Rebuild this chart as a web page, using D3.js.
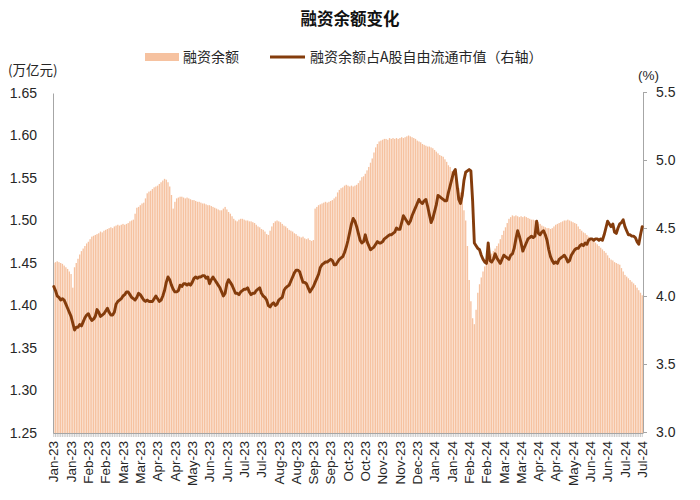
<!DOCTYPE html>
<html><head><meta charset="utf-8">
<script src="https://cdn.jsdelivr.net/npm/d3@7"></script>
<style>
html,body{margin:0;padding:0;background:#fff;}
svg{display:block;font-family:"Liberation Sans",Arial,"Noto Sans CJK SC",sans-serif;}
</style></head>
<body>
<svg id="chart" width="700" height="500"></svg>
<script>
// 融资余额 (万亿元), daily
const marginBalance = [
1.450,1.451,1.452,1.451,1.450,1.449,1.447,1.445,1.443,1.440,
1.437,1.421,1.445,1.450,1.455,1.460,1.464,1.467,1.470,1.473,
1.475,1.478,1.481,1.482,1.483,1.484,1.485,1.487,1.486,1.488,
1.489,1.490,1.491,1.492,1.491,1.493,1.494,1.495,1.494,1.495,
1.496,1.495,1.496,1.497,1.499,1.500,1.501,1.508,1.515,1.516,
1.518,1.520,1.521,1.526,1.532,1.534,1.535,1.537,1.539,1.540,
1.541,1.543,1.545,1.547,1.549,1.548,1.545,1.540,1.530,1.514,
1.522,1.526,1.527,1.528,1.528,1.527,1.526,1.527,1.526,1.525,
1.524,1.524,1.523,1.522,1.522,1.521,1.520,1.520,1.519,1.518,
1.518,1.517,1.516,1.515,1.514,1.513,1.512,1.512,1.514,1.516,
1.513,1.510,1.508,1.505,1.502,1.500,1.499,1.501,1.502,1.502,
1.501,1.500,1.500,1.499,1.499,1.498,1.497,1.495,1.493,1.492,
1.490,1.489,1.487,1.484,1.483,1.488,1.493,1.497,1.499,1.500,
1.499,1.498,1.496,1.494,1.493,1.491,1.489,1.488,1.487,1.485,
1.484,1.482,1.481,1.480,1.481,1.479,1.478,1.479,1.477,1.476,
1.477,1.514,1.516,1.518,1.519,1.520,1.521,1.522,1.521,1.522,
1.523,1.524,1.526,1.528,1.533,1.536,1.538,1.539,1.541,1.542,
1.541,1.540,1.541,1.540,1.541,1.542,1.544,1.547,1.551,1.552,
1.555,1.559,1.563,1.568,1.573,1.580,1.586,1.590,1.593,1.594,
1.595,1.596,1.596,1.595,1.597,1.596,1.597,1.596,1.597,1.596,
1.597,1.598,1.597,1.598,1.599,1.600,1.599,1.598,1.597,1.596,
1.594,1.593,1.592,1.590,1.589,1.588,1.587,1.587,1.586,1.585,
1.583,1.581,1.579,1.577,1.576,1.575,1.572,1.569,1.565,1.563,
1.558,1.553,1.548,1.544,1.538,1.533,1.525,1.512,1.500,1.470,
1.430,1.405,1.385,1.378,1.395,1.415,1.425,1.433,1.440,1.446,
1.451,1.455,1.459,1.461,1.464,1.467,1.470,1.473,1.478,1.483,
1.488,1.492,1.497,1.502,1.504,1.506,1.505,1.506,1.505,1.504,
1.505,1.504,1.505,1.504,1.503,1.502,1.501,1.501,1.500,1.500,
1.498,1.496,1.494,1.493,1.492,1.491,1.491,1.490,1.491,1.493,
1.495,1.496,1.497,1.498,1.499,1.500,1.500,1.501,1.500,1.499,
1.498,1.497,1.496,1.493,1.490,1.488,1.486,1.485,1.483,1.481,
1.479,1.478,1.476,1.474,1.472,1.470,1.468,1.466,1.464,1.462,
1.459,1.456,1.454,1.453,1.451,1.450,1.449,1.448,1.444,1.440,
1.436,1.434,1.432,1.430,1.428,1.426,1.424,1.421,1.418,1.415,
1.412
];

// 融资余额占A股自由流通市值 (%), daily
const ratio = [
4.07,4.04,4.00,3.99,3.97,3.98,3.97,3.94,3.91,3.88,
3.85,3.80,3.75,3.77,3.77,3.79,3.78,3.81,3.84,3.86,
3.87,3.84,3.82,3.83,3.85,3.90,3.88,3.85,3.86,3.87,
3.89,3.91,3.88,3.86,3.86,3.88,3.94,3.96,3.97,3.98,
4.00,4.01,4.03,4.03,4.01,3.99,3.98,3.97,3.99,4.02,
4.01,3.99,3.97,3.96,3.97,3.96,3.96,3.96,3.98,4.00,
3.98,3.96,3.97,4.00,4.04,4.10,4.14,4.12,4.08,4.05,
4.03,4.03,4.04,4.08,4.07,4.09,4.09,4.08,4.09,4.08,
4.10,4.13,4.14,4.13,4.14,4.14,4.15,4.15,4.13,4.14,
4.09,4.12,4.14,4.12,4.10,4.08,4.06,4.03,4.00,4.02,
4.09,4.12,4.10,4.08,4.05,4.02,4.02,4.01,4.03,4.04,
4.05,4.05,4.06,4.03,4.01,4.02,4.02,4.04,4.05,4.06,
4.02,4.00,3.99,3.97,3.93,3.92,3.94,3.95,3.93,3.94,
3.97,3.98,3.99,4.04,4.06,4.07,4.08,4.11,4.14,4.17,
4.19,4.19,4.18,4.14,4.10,4.10,4.09,4.06,4.03,4.05,
4.07,4.10,4.13,4.16,4.21,4.23,4.24,4.25,4.25,4.26,
4.27,4.26,4.23,4.23,4.25,4.27,4.28,4.29,4.32,4.36,
4.41,4.47,4.53,4.57,4.55,4.51,4.46,4.41,4.39,4.40,
4.45,4.40,4.37,4.34,4.35,4.36,4.38,4.40,4.39,4.39,
4.40,4.42,4.43,4.44,4.45,4.45,4.46,4.47,4.50,4.49,
4.49,4.54,4.59,4.57,4.55,4.53,4.55,4.59,4.62,4.65,
4.68,4.71,4.69,4.68,4.70,4.71,4.66,4.60,4.54,4.57,
4.62,4.67,4.74,4.73,4.72,4.71,4.70,4.70,4.76,4.81,
4.86,4.91,4.93,4.82,4.71,4.68,4.74,4.85,4.91,4.92,
4.93,4.92,4.70,4.39,4.37,4.35,4.34,4.30,4.27,4.25,
4.24,4.39,4.26,4.25,4.27,4.31,4.28,4.26,4.24,4.27,
4.30,4.29,4.28,4.27,4.30,4.31,4.35,4.42,4.48,4.44,
4.39,4.33,4.36,4.39,4.42,4.43,4.44,4.43,4.44,4.55,
4.46,4.45,4.47,4.48,4.45,4.41,4.34,4.29,4.26,4.24,
4.25,4.24,4.27,4.28,4.29,4.30,4.28,4.25,4.26,4.30,
4.32,4.34,4.35,4.35,4.37,4.38,4.37,4.39,4.38,4.41,
4.42,4.42,4.41,4.42,4.42,4.41,4.42,4.41,4.45,4.50,
4.55,4.53,4.51,4.53,4.47,4.46,4.50,4.53,4.54,4.56,
4.51,4.48,4.45,4.45,4.44,4.44,4.43,4.40,4.38,4.45,
4.51
];

// x tick labels, one every 10 trading days
const tickLabels = ["Jan-23","Jan-23","Feb-23","Feb-23","Mar-23","Mar-23","Apr-23","Apr-23","May-23",
"Jun-23","Jun-23","Jul-23","Jul-23","Aug-23","Aug-23","Sep-23","Sep-23","Oct-23","Oct-23",
"Nov-23","Nov-23","Dec-23","Jan-24","Jan-24","Feb-24","Feb-24","Mar-24","Mar-24","Apr-24",
"Apr-24","May-24","Jun-24","Jun-24","Jul-24","Jul-24"];
const leftTicks = [1.25,1.30,1.35,1.40,1.45,1.50,1.55,1.60,1.65];
const rightTicks = [3.0,3.5,4.0,4.5,5.0,5.5];

const title = "融资余额变化";
const seriesNames = ["融资余额","融资余额占A股自由流通市值（右轴）"];

const svg = d3.select("#chart");
const L = 53, R = 643, T = 93, B = 433;
const barColor = "#F6C2A0", lineColor = "#843C0C", axisColor = "#A6A6A6", textColor = "#262626";
const cjk = '"Noto Sans CJK SC","Liberation Sans",sans-serif';
const latin = '"Liberation Sans",Arial,sans-serif';

const days = d3.range(marginBalance.length);
const x = d3.scaleBand().domain(days).range([L, R]).paddingInner(0.22).paddingOuter(0.05);
const yL = d3.scaleLinear().domain([1.25, 1.65]).range([B, T]);
const yR = d3.scaleLinear().domain([3.0, 5.5]).range([B - 1, T - 1]);

// bars
svg.append("g").selectAll("rect").data(days).join("rect")
  .attr("x", i => x(i)).attr("width", x.bandwidth())
  .attr("y", i => yL(marginBalance[i])).attr("height", i => B - yL(marginBalance[i]))
  .attr("fill", barColor);

// left axis
const gL = svg.append("g").attr("transform", `translate(${L},0)`)
  .call(d3.axisLeft(yL).tickValues(leftTicks).tickSize(0).tickSizeOuter(0).tickPadding(16).tickFormat(d3.format(".2f")));
gL.select(".domain").attr("stroke", axisColor);
gL.selectAll("text").attr("fill", textColor).style("font-size", "14px").style("font-family", latin);

// right axis
const gR = svg.append("g").attr("transform", `translate(${R},0)`)
  .call(d3.axisRight(yR).tickValues(rightTicks).tickSize(4).tickSizeOuter(0).tickPadding(9).tickFormat(d3.format(".1f")));
gR.select(".domain").attr("stroke", axisColor);
gR.selectAll("line").attr("stroke", axisColor);
gR.selectAll("text").attr("fill", textColor).style("font-size", "14px").style("font-family", latin);

// bottom axis
const gB = svg.append("g").attr("transform", `translate(0,${B})`)
  .call(d3.axisBottom(x).tickSize(4).tickSizeOuter(0)
    .tickFormat(i => i % 10 === 0 ? tickLabels[i / 10] : ""));
gB.select(".domain").attr("stroke", axisColor);
gB.selectAll("line").attr("stroke", axisColor).attr("stroke-width", 0.6);
gB.selectAll("text")
  .attr("transform", "rotate(-90)")
  .attr("x", -8).attr("y", 0).attr("dy", "0.35em")
  .style("text-anchor", "end")
  .attr("fill", textColor).style("font-size", "13.5px").style("font-family", latin);

// line
const line = d3.line().x(i => x(i) + x.bandwidth() / 2).y(i => yR(ratio[i]));
svg.append("path").datum(days).attr("d", line)
  .attr("fill", "none").attr("stroke", lineColor).attr("stroke-width", 2.9)
  .attr("stroke-linejoin", "round").attr("stroke-linecap", "round");

// title
svg.append("text").attr("x", 350).attr("y", 25).attr("text-anchor", "middle")
  .style("font-family", cjk).style("font-size", "16.5px").style("font-weight", "bold")
  .attr("fill", "#111").text(title);

// legend
const lg = svg.append("g").style("font-family", cjk).style("font-size", "14px").attr("fill", textColor);
lg.append("rect").attr("x", 145).attr("y", 53).attr("width", 34).attr("height", 8).attr("fill", barColor);
lg.append("text").attr("x", 183).attr("y", 62).text(seriesNames[0]);
lg.append("line").attr("x1", 270).attr("x2", 305).attr("y1", 57).attr("y2", 57)
  .attr("stroke", lineColor).attr("stroke-width", 3);
lg.append("text").attr("x", 310).attr("y", 62).text(seriesNames[1]);

// unit labels
svg.append("text").attr("x", 8).attr("y", 75).style("font-family", cjk).style("font-size", "13.5px")
  .attr("fill", textColor).text("(万亿元)");
svg.append("text").attr("x", 638).attr("y", 80).style("font-family", latin).style("font-size", "13.5px")
  .attr("fill", textColor).text("(%)");
</script>
</body></html>
